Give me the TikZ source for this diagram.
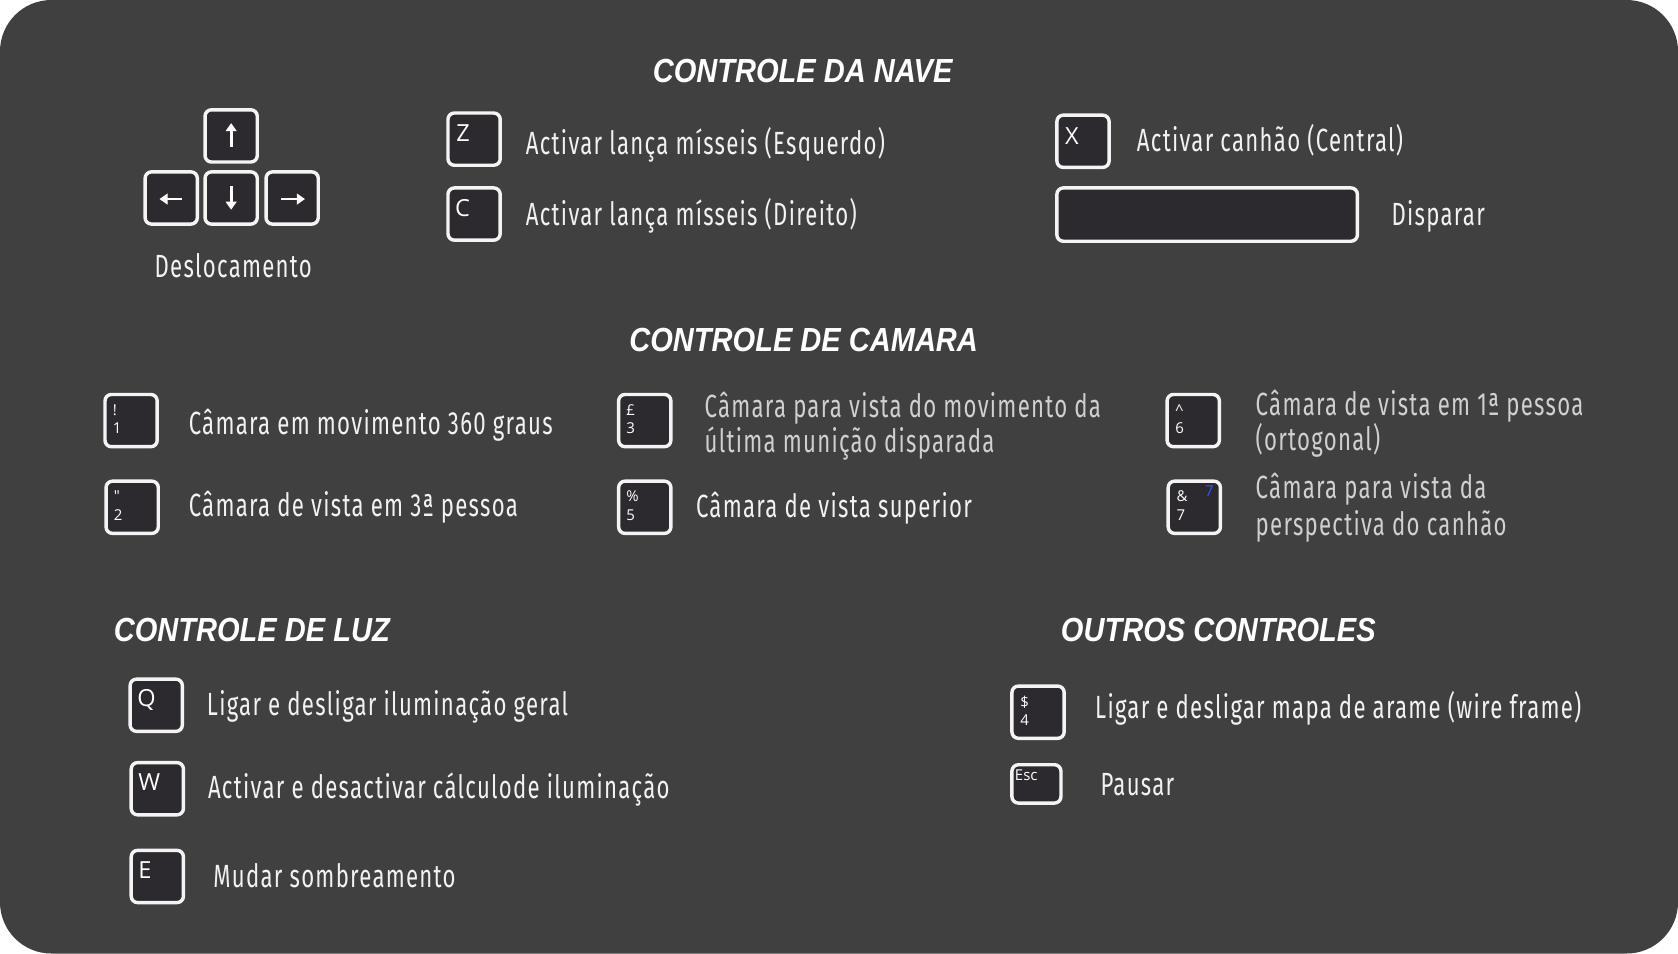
\documentclass[tikz,border=0pt]{standalone}
\usepackage{fontspec}
\setmainfont{Fira Sans}[FakeStretch=0.69, LetterSpace=4]
\newfontfamily\titlefont{Liberation Sans}[FakeStretch=0.87]
\newfontfamily\keyfont{Open Sans}
\usetikzlibrary{arrows.meta}
\definecolor{bgc}{HTML}{404040}
\definecolor{keyfill}{HTML}{2D2A2F}
\definecolor{keyedge}{HTML}{F4F4F4}
\definecolor{txtw}{HTML}{F2F2F2}
\definecolor{txtg}{HTML}{D0D0D0}
\definecolor{kblue}{HTML}{3355FF}
\begin{document}
\begin{tikzpicture}[x=0.5pt,y=-0.5pt,
  keycap/.style={draw=keyedge, fill=keyfill, line width=1.6pt, rounded corners=3pt,
    minimum width=24.4pt, minimum height=24.4pt, inner sep=0pt},
  desc/.style={anchor=base west, inner sep=0pt, text=txtw, font=\fontsize{15}{17}\selectfont},
  descg/.style={desc, text=txtg},
  ttl/.style={inner sep=0pt, text=white, font=\titlefont\bfseries\itshape\fontsize{15.6}{17}\selectfont},
  klet/.style={anchor=base west, inner sep=0pt, text=white, font=\keyfont\fontsize{11}{12}\selectfont},
  knum/.style={anchor=base west, inner sep=0pt, text=white, font=\keyfont\fontsize{7}{8}\selectfont},
  karrow/.style={draw=white, line width=1.3pt, -{Triangle[length=3.8pt,width=5pt]}}
]
\useasboundingbox (0,0) rectangle (1568,891);
\fill[white] (0,0) rectangle (1568,891);
\fill[bgc, rounded corners=24pt] (0,0) rectangle (1568,891);

% ---------- titles
\node[ttl, anchor=base] (t1) at (750,77) {CONTROLE DA NAVE};
\node[ttl, anchor=base] (t2) at (751,328) {CONTROLE DE CAMARA};
\node[ttl, anchor=base west] (t3) at (106,599) {CONTROLE DE LUZ};
\node[ttl, anchor=base west] (t4) at (991,599) {OUTROS CONTROLES};

% ---------- ship control
\node[keycap] (kup) at (216,127) {};
\node[keycap] (kleft) at (160,185) {};
\node[keycap] (kdown) at (216,185) {};
\node[keycap] (kright) at (273,185) {};
\coordinate (aup1) at (216,137); \coordinate (aup2) at (216,115);
\coordinate (adn1) at (216,174); \coordinate (adn2) at (216,196);
\coordinate (alf1) at (170,186); \coordinate (alf2) at (149,186);
\coordinate (art1) at (263,186); \coordinate (art2) at (285,186);
\draw[karrow] (aup1) -- (aup2);
\draw[karrow] (adn1) -- (adn2);
\draw[karrow] (alf1) -- (alf2);
\draw[karrow] (art1) -- (art2);
\node[desc, anchor=base] (dlab) at (218,259) {Deslocamento};

\node[keycap] (kz) at (443,130) {};
\node[klet] (kzl) at (426,132) {Z};
\node[desc] (dz) at (491,144) {Activar lança mísseis (Esquerdo)};
\node[keycap] (kc) at (443,200) {};
\node[klet] (kcl) at (425,202) {C};
\node[desc] (dc) at (491,211) {Activar lança mísseis (Direito)};
\node[keycap] (kx) at (1012,132) {};
\node[klet] (kxl) at (995,135) {X};
\node[desc] (dx) at (1062,142) {Activar canhão (Central)};
\node[keycap, minimum width=140.4pt, minimum height=24.9pt] (kspace) at (1128,200.5) {};
\node[desc] (dspace) at (1300,211) {Disparar};

% ---------- camera control
\node[keycap] (k1) at (122.5,393) {};
\node[knum] (k1a) at (105,388) {!};
\node[knum] (k1b) at (105,405) {1};
\node[desc] (d1) at (176,406) {Câmara em movimento 360 graus};
\node[keycap] (k2) at (123.5,474) {};
\node[knum] (k2a) at (106,469) {"};
\node[knum] (k2b) at (106,486) {2};
\node[desc] (d2) at (176,483) {Câmara de vista em 3ª pessoa};
\node[keycap] (k3) at (602.5,393) {};
\node[knum] (k3a) at (585,388) {£};
\node[knum] (k3b) at (585,405) {3};
\node[descg] (d3a) at (658,390) {Câmara para vista do movimento da};
\node[descg] (d3b) at (658,423) {última munição disparada};
\node[keycap] (k5) at (602.5,474) {};
\node[knum] (k5a) at (585,469) {\%};
\node[knum] (k5b) at (585,486) {5};
\node[desc] (d5) at (650,484) {Câmara de vista superior};
\node[keycap] (k6) at (1115,393) {};
\node[knum] (k6a) at (1098,388) {\textasciicircum};
\node[knum] (k6b) at (1098,405) {6};
\node[descg] (d6a) at (1173,388) {Câmara de vista em 1ª pessoa};
\node[descg] (d6b) at (1173,421) {(ortogonal)};
\node[keycap] (k7) at (1116,474) {};
\node[knum] (k7a) at (1099,469) {\&};
\node[knum] (k7b) at (1099,486) {7};
\node[knum, anchor=base, text=kblue] (k7c) at (1130,464) {7};
\node[descg] (d7a) at (1173,466) {Câmara para vista da};
\node[descg] (d7b) at (1173,500) {perspectiva do canhão};

% ---------- light control
\node[keycap] (kq) at (146,659) {};
\node[klet] (kql) at (128,660) {Q};
\node[desc] (dq) at (193,669) {Ligar e desligar iluminação geral};
\node[keycap] (kw) at (147,737) {};
\node[klet] (kwl) at (129,739) {W};
\node[desc] (dw) at (194,746) {Activar e desactivar cálculode iluminação};
\node[keycap] (ke) at (147,819) {};
\node[klet] (kel) at (129,821) {E};
\node[desc] (de) at (199,829) {Mudar sombreamento};

% ---------- other controls
\node[keycap] (k4) at (970,665.5) {};
\node[knum] (k4a) at (953,661) {\$};
\node[knum] (k4b) at (953,678) {4};
\node[desc] (d4) at (1023,671) {Ligar e desligar mapa de arame (wire frame)};
\node[keycap, minimum width=22.9pt, minimum height=17.9pt] (kesc) at (968.5,732.5) {};
\node[knum] (kescl) at (948,729) {Esc};
\node[desc] (desc1) at (1028,743) {Pausar};
\end{tikzpicture}
\end{document}
